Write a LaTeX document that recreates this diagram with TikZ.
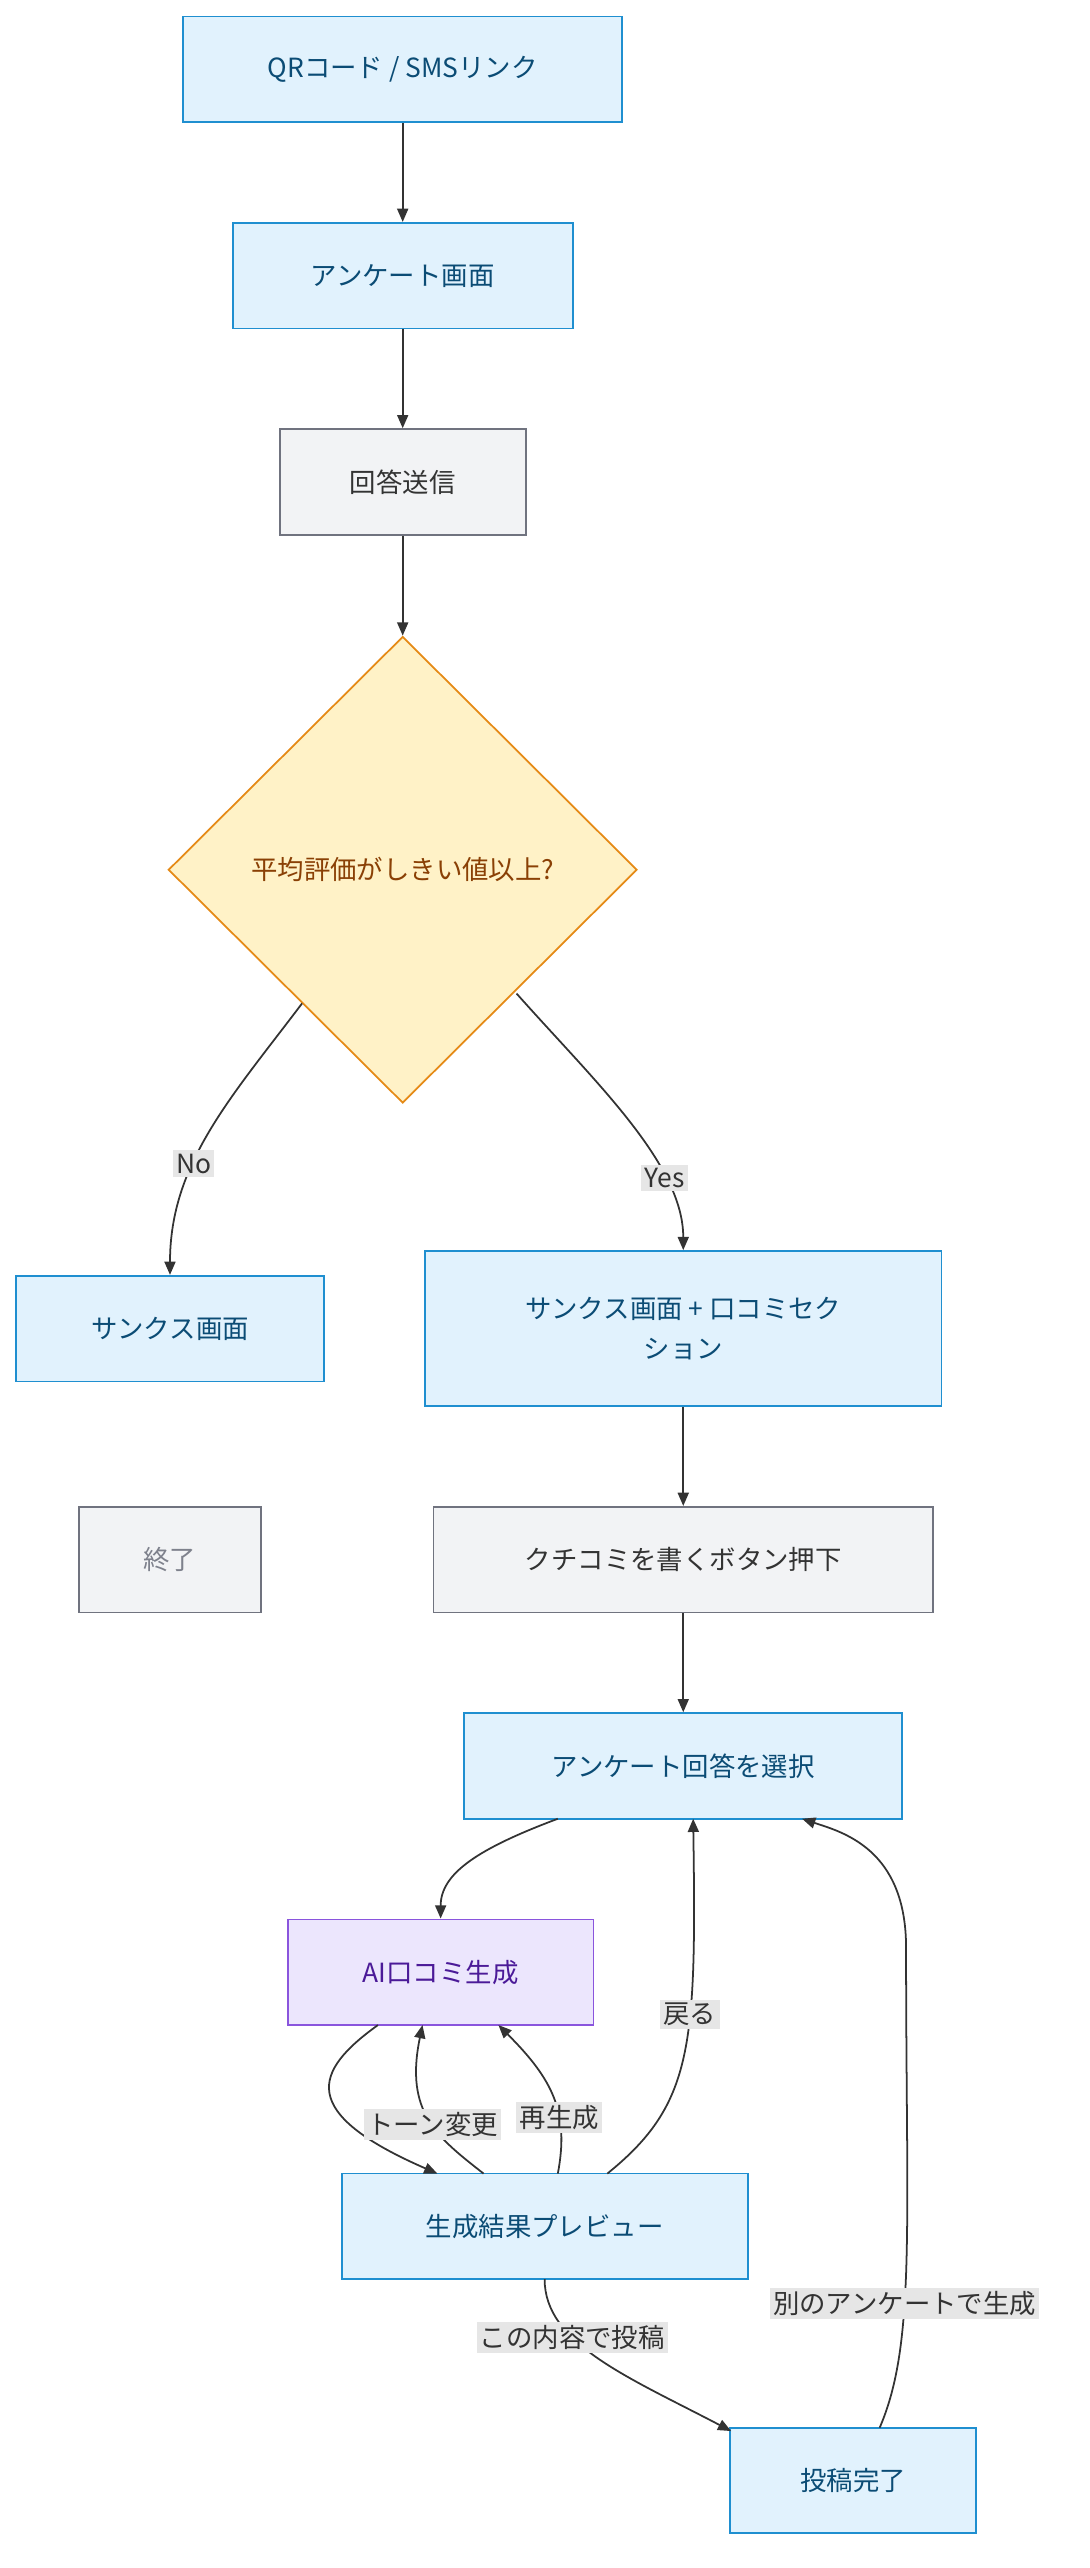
\documentclass[tikz,border=0pt]{standalone}
\usepackage{fontspec}
\setmainfont{Noto Sans CJK JP}
\usetikzlibrary{shapes.geometric,arrows.meta}
\definecolor{bf}{HTML}{E1F2FD}\definecolor{bs}{HTML}{1F8FD0}\definecolor{bt}{HTML}{0B4C75}
\definecolor{gf}{HTML}{F2F3F5}\definecolor{gs}{HTML}{70737F}\definecolor{gt}{HTML}{333333}
\definecolor{yf}{HTML}{FFF2C7}\definecolor{ys}{HTML}{E58A16}\definecolor{yt}{HTML}{8A4005}
\definecolor{pf}{HTML}{ECE6FD}\definecolor{ps}{HTML}{8A55DD}\definecolor{pt}{HTML}{4B1A98}
\definecolor{lb}{HTML}{E6E6E6}\definecolor{ln}{HTML}{333333}
\begin{document}
\begin{tikzpicture}[x=0.75pt,y=-0.75pt,font=\fontsize{12}{15}\selectfont,
 box/.style={draw,line width=0.8pt,minimum height=48pt,inner sep=0pt,align=center},
 blue/.style={box,fill=bf,draw=bs,text=bt},
 gray/.style={box,fill=gf,draw=gs,text=gt},
 purple/.style={box,fill=pf,draw=ps,text=pt},
 e/.style={draw=ln,line width=0.8pt,-{Triangle[length=6pt,width=5pt]}},
 lab/.style={fill=lb,text=gt,inner sep=1.5pt}]
\useasboundingbox (0,0) rectangle (660,1556);
\node[blue,minimum width=199.5pt] (qr) at (244,42) {QRコード / SMSリンク};
\node[blue,minimum width=154.5pt] (sv) at (244,167) {アンケート画面};
\node[gray,minimum width=111.75pt] (ans) at (244,292) {回答送信};
\node[diamond,draw=ys,fill=yf,text=yt,line width=0.8pt,minimum width=213pt,minimum height=212pt,inner sep=0pt] (d) at (244,527) {平均評価がしきい値以上?};
\node[blue,minimum width=140pt] (th) at (103,805) {サンクス画面};
\node[blue,minimum width=234.75pt,minimum height=70.5pt] (thk) at (414,805) {サンクス画面 + 口コミセク\\[3pt]ション};
\node[gray,minimum width=83pt,text=gs!90] (end) at (103,945) {終了};
\node[gray,minimum width=227pt] (btn) at (414,945) {クチコミを書くボタン押下};
\node[blue,minimum width=199pt] (sel) at (414,1070) {アンケート回答を選択};
\node[purple,minimum width=139pt] (ai) at (267,1195) {AI口コミ生成};
\node[blue,minimum width=184.5pt] (pv) at (330,1349) {生成結果プレビュー};
\node[blue,minimum width=111.75pt] (done) at (517,1503) {投稿完了};
\draw[e] (qr) -- (sv);
\draw[e] (sv) -- (ans);
\draw[e] (ans) -- (d.north);
\draw[e] (183,608) .. controls (140,665) and (103,705) .. node[lab,pos=0.62] {No} (th.north);
\draw[e] (313,602) .. controls (360,655) and (414,705) .. node[lab,pos=0.72] {Yes} (thk.north);
\draw[e] (thk) -- (btn);
\draw[e] (btn) -- (sel);
\draw[e] (338,1102) .. controls (290,1120) and (267,1135) .. (ai.south |- ai.north);
\draw[e] (229,1227) .. controls (190,1255) and (180,1280) .. (265,1317);
\draw[e] (293,1317) .. controls (265,1295) and (245,1280) .. node[lab,pos=0.45] {トーン変更} (256,1227);
\draw[e] (338,1317) .. controls (345,1280) and (335,1260) .. node[lab,pos=0.35] {再生成} (302,1227);
\draw[e] (368,1317) .. controls (420,1275) and (422,1240) .. node[lab,pos=0.62] {戻る} (420,1102);
\draw[e] (330,1381) .. controls (330,1420) and (380,1440) .. node[lab,pos=0.35] {この内容で投稿} (443,1473);
\draw[e] (533,1471) .. controls (555,1420) and (549,1350) .. node[lab,pos=0.4] {別のアンケートで生成} (549,1180) .. controls (549,1120) and (510,1110) .. (486,1102);
\end{tikzpicture}
\end{document}
